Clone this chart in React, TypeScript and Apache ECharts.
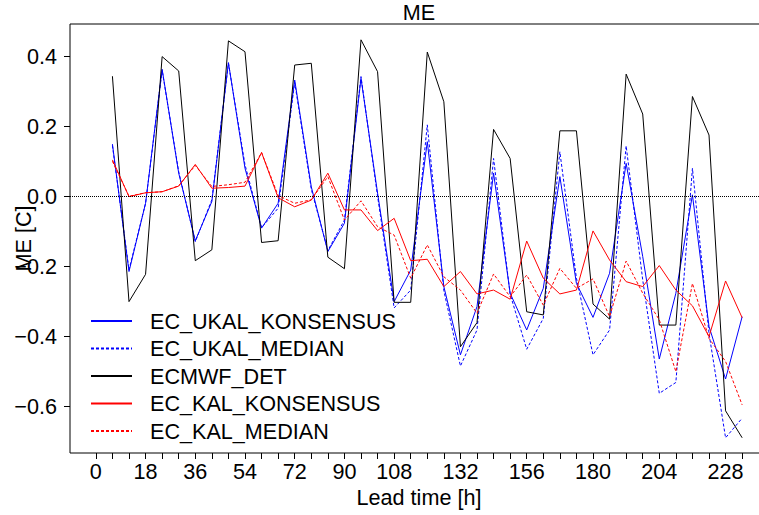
import React, { useEffect, useRef } from "react";
import * as echarts from "echarts";

const leadTimes = [6, 12, 18, 24, 30, 36, 42, 48, 54, 60, 66, 72, 78, 84, 90, 96, 102, 108, 114, 120, 126, 132, 138, 144, 150, 156, 162, 168, 174, 180, 186, 192, 198, 204, 210, 216, 222, 228, 234];

const ukalKonsensus = [0.149, -0.215, -0.020, 0.363, 0.066, -0.127, -0.015, 0.382, 0.080, -0.091, -0.020, 0.332, 0.027, -0.158, -0.077, 0.337, 0.009, -0.301, -0.211, 0.156, -0.258, -0.453, -0.315, 0.066, -0.277, -0.382, -0.263, 0.056, -0.249, -0.346, -0.220, 0.094, -0.172, -0.465, -0.277, 0.004, -0.372, -0.522, -0.344];

const ukalMedian = [0.145, -0.210, -0.020, 0.360, 0.070, -0.130, -0.010, 0.380, 0.090, -0.090, -0.034, 0.325, 0.020, -0.155, -0.068, 0.342, 0.000, -0.319, -0.268, 0.204, -0.270, -0.485, -0.382, 0.108, -0.280, -0.437, -0.349, 0.127, -0.234, -0.453, -0.382, 0.144, -0.239, -0.563, -0.532, 0.080, -0.392, -0.690, -0.634];

const ecmwfDet = [0.343, -0.301, -0.223, 0.399, 0.358, -0.184, -0.153, 0.444, 0.413, -0.132, -0.127, 0.375, 0.380, -0.174, -0.207, 0.447, 0.356, -0.303, -0.303, 0.412, 0.270, -0.430, -0.361, 0.191, 0.108, -0.330, -0.339, 0.187, 0.187, -0.308, -0.351, 0.349, 0.235, -0.368, -0.368, 0.285, 0.175, -0.613, -0.690];

const kalKonsensus = [0.104, -0.001, 0.010, 0.013, 0.029, 0.091, 0.023, 0.025, 0.029, 0.125, -0.004, -0.030, -0.011, 0.066, -0.039, -0.039, -0.098, -0.063, -0.184, -0.180, -0.258, -0.215, -0.279, -0.268, -0.294, -0.128, -0.234, -0.279, -0.268, -0.099, -0.182, -0.244, -0.258, -0.198, -0.268, -0.313, -0.401, -0.242, -0.347];

const kalMedian = [0.100, 0.000, 0.010, 0.013, 0.030, 0.088, 0.028, 0.033, 0.040, 0.125, 0.002, -0.020, -0.010, 0.056, -0.068, -0.013, -0.087, -0.111, -0.234, -0.139, -0.230, -0.268, -0.334, -0.222, -0.287, -0.225, -0.311, -0.206, -0.263, -0.236, -0.344, -0.185, -0.277, -0.353, -0.501, -0.249, -0.406, -0.472, -0.596];

const xTickValues = [0, 6, 12, 18, 24, 30, 36, 42, 48, 54, 60, 66, 72, 78, 84, 90, 96, 102, 108, 114, 120, 126, 132, 138, 144, 150, 156, 162, 168, 174, 180, 186, 192, 198, 204, 210, 216, 222, 228, 234];
const xLabelValues = [0, 18, 36, 54, 72, 90, 108, 132, 156, 180, 204, 228];
const yTickValues = [-0.6, -0.4, -0.2, 0, 0.2, 0.4];

const seriesNames = ["EC_UKAL_KONSENSUS", "EC_UKAL_MEDIAN", "ECMWF_DET", "EC_KAL_KONSENSUS", "EC_KAL_MEDIAN"];

const FONT = "'Liberation Sans', Arial, Helvetica, sans-serif";
const FS = 21.6;

function pair(values: number[]) {
  return leadTimes.map((t, i) => [t, values[i]]);
}

export default function App() {
  const ref = useRef<HTMLDivElement>(null);
  useEffect(() => {
    document.body.style.margin = "0";
    if (!ref.current) return;
    const chart = echarts.init(ref.current, null, { renderer: "svg" });
    const dash = [3, 2];
    const mk = (name: string, values: number[], color: string, type: any, extra: any = {}) => ({
      name,
      type: "line",
      data: pair(values),
      symbol: "none",
      showSymbol: false,
      silent: true,
      itemStyle: { color },
      lineStyle: { color, width: 1, type },
      ...extra,
    });
    chart.setOption({
      animation: false,
      title: {
        text: "ME",
        left: 419,
        top: 1,
        padding: 0,
        textAlign: "center",
        textStyle: { fontSize: FS, fontWeight: "normal", color: "#000", fontFamily: FONT },
      },
      grid: {
        left: 70,
        top: 24,
        width: 698,
        height: 429,
        show: true,
        borderColor: "#000",
        borderWidth: 1,
        backgroundColor: "transparent",
        containLabel: false,
        outerBoundsMode: "none",
      },
      legend: {
        orient: "vertical",
        left: 90,
        top: 310,
        padding: 0,
        itemWidth: 41,
        itemHeight: 14,
        itemGap: 5.5,
        data: seriesNames,
        itemStyle: { color: "transparent", borderColor: "transparent", borderWidth: 0, opacity: 0 },
        textStyle: { fontSize: FS, color: "#000", fontFamily: FONT, padding: [0, 0, 0, 13], lineHeight: 21 },
      },
      xAxis: {
        type: "value",
        min: -9.36,
        max: 243.36,
        name: "Lead time [h]",
        nameLocation: "middle",
        nameGap: 33,
        nameMoveOverlap: false,
        nameTextStyle: { fontSize: FS, color: "#000", fontFamily: FONT },
        axisLine: { show: false, onZero: false },
        splitLine: { show: false },
        axisTick: { show: true, length: 6, customValues: xTickValues, lineStyle: { color: "#000" } },
        axisLabel: {
          customValues: xLabelValues,
          margin: 7,
          fontSize: FS,
          color: "#000",
          fontFamily: FONT,
          formatter: (v: number) => String(v),
        },
      },
      yAxis: {
        type: "value",
        min: -0.7335,
        max: 0.4922,
        name: "ME [C]",
        nameLocation: "middle",
        nameRotate: 90,
        nameGap: 36,
        nameMoveOverlap: false,
        nameTextStyle: { fontSize: FS, color: "#000", fontFamily: FONT },
        axisLine: { show: false, onZero: false },
        splitLine: { show: false },
        axisTick: { show: true, length: 6, customValues: yTickValues, lineStyle: { color: "#000" } },
        axisLabel: {
          customValues: yTickValues,
          margin: 13,
          fontSize: FS,
          color: "#000",
          fontFamily: FONT,
          formatter: (v: number) => v.toFixed(1).replace("-", "\u2212"),
        },
      },
      series: [
        mk(seriesNames[0], ukalKonsensus, "#0000ff", "solid", {
          markLine: {
            silent: true,
            symbol: ["none", "none"],
            label: { show: false },
            lineStyle: { color: "#000", width: 1, type: "dotted" },
            data: [{ yAxis: 0 }],
          },
        }),
        mk(seriesNames[1], ukalMedian, "#0000ff", dash),
        mk(seriesNames[2], ecmwfDet, "#000000", "solid"),
        mk(seriesNames[3], kalKonsensus, "#ff0000", "solid"),
        mk(seriesNames[4], kalMedian, "#ff0000", dash),
      ],
    });
    return () => chart.dispose();
  }, []);
  return <div ref={ref} style={{ width: 759, height: 515 }} />;
}
